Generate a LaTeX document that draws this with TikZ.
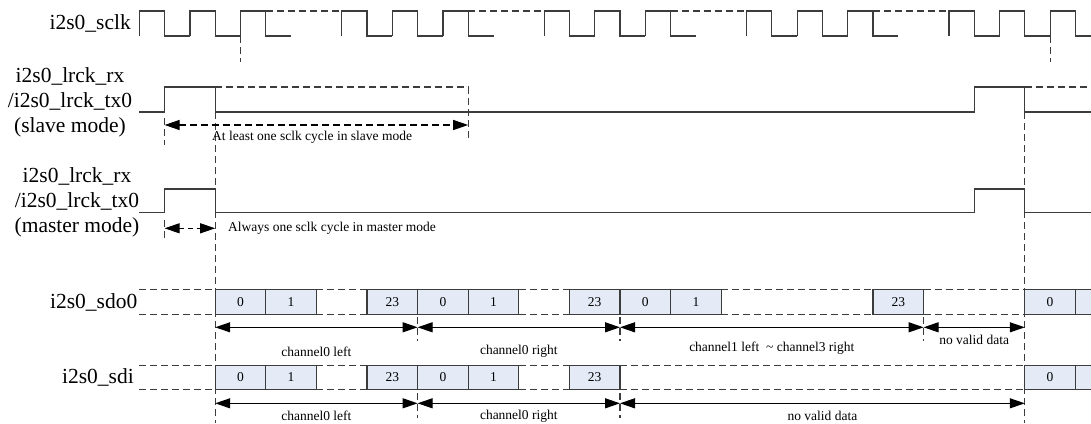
\documentclass[tikz,border=0pt]{standalone}
\usepackage{fontspec}
\setmainfont{Liberation Serif}
\usepackage{tikz}
\usetikzlibrary{arrows.meta}
\definecolor{tdLine}{RGB}{60, 60, 60}
\definecolor{tdCell}{RGB}{228, 235, 247}
\tikzset{
    wave/.style={
        draw=tdLine,
        line width=1.2pt
    },
    guide/.style={
        draw=tdLine,
        line width=1.1pt,
        dash pattern=on 7pt off 4pt
    },
    span/.style={
        >={Triangle[length=15pt,width=10pt]},
        <->,
        draw=black,
        line width=1.1pt
    },
    bitcell/.style={
        draw=tdLine,
        line width=1.1pt,
        fill=tdCell
    },
    signame/.style={
        font=\fontsize{21.5}{25}\selectfont,
        align=center,
        inner sep=0pt
    },
    note/.style={
        font=\fontsize{13.5}{16}\selectfont,
        inner sep=0pt
    }
}
% x position of sclk rising edge number #1
\newcommand{\tx}[1]{139.3+50.6*(#1)}

\begin{document}
\begin{tikzpicture}[x=1pt, y=-1pt]
    \useasboundingbox (0,0) rectangle (1091,423);

    % Signal names
    \node[signame, anchor=east] (sclk) at (131,23) {i2s0\_sclk};
    \node[signame] (slave) at (70,102) {i2s0\_lrck\_rx\\/i2s0\_lrck\_tx0\\(slave mode)};
    \node[signame] (master) at (77,202) {i2s0\_lrck\_rx\\/i2s0\_lrck\_tx0\\(master mode)};
    \node[signame, anchor=east] (sdo) at (137.5,302) {i2s0\_sdo0};
    \node[signame, anchor=east] (sdi) at (134,377) {i2s0\_sdi};

    % Long guides
    \draw[guide] ({\tx{1.5}},112) -- ({\tx{1.5}},423);
    \draw[guide] ({\tx{17.5}},112) -- ({\tx{17.5}},423);

    % sclk
    \foreach \k in {0,1,2,4,5,6,8,9,10,12,13,14,16,17,18}
        \draw[wave] ({\tx{\k}},36) -- ({\tx{\k}},11) -- ({\tx{\k+0.5}},11)
            -- ({\tx{\k+0.5}},36) -- ({\tx{\k+1}},36);
    \foreach \k in {2,6,10,14}
        \draw[guide] ({\tx{\k+0.5}},11) -- ({\tx{\k+2}},11);
    \draw[guide] ({\tx{2}},36) -- ({\tx{2}},62);
    \draw[guide] ({\tx{18}},36) -- ({\tx{18}},62);

    % lrck, slave mode
    \draw[wave] ({\tx{0}},112) -- ({\tx{0.5}},112) -- ({\tx{0.5}},87) -- ({\tx{1.5}},87)
        -- ({\tx{1.5}},112) -- ({\tx{16.5}},112) -- ({\tx{16.5}},87) -- ({\tx{17.5}},87)
        -- ({\tx{17.5}},112) -- (1091,112);
    \draw[guide] ({\tx{1.5}},87) -- ({\tx{6.5}},87) -- ({\tx{6.5}},140);
    \draw[guide] ({\tx{17.5}},87) -- (1091,87);
    \draw[guide] ({\tx{0.5}},118) -- ({\tx{0.5}},145);
    \coordinate (sa) at ({\tx{0.5}},125);
    \coordinate (sb) at ({\tx{6.5}},125);
    \draw[span, dash pattern=on 7pt off 4pt] (sa) -- (sb);
    \node[note, anchor=west] (slavenote) at (212,137) {At least one sclk cycle in slave mode};

    % lrck, master mode
    \draw[wave] ({\tx{0}},212.7) -- ({\tx{0.5}},212.7) -- ({\tx{0.5}},189) -- ({\tx{1.5}},189)
        -- ({\tx{1.5}},212.7) -- ({\tx{16.5}},212.7) -- ({\tx{16.5}},189) -- ({\tx{17.5}},189)
        -- ({\tx{17.5}},212.7) -- (1091,212.7);
    \draw[guide] ({\tx{0.5}},220) -- ({\tx{0.5}},241);
    \coordinate (ma) at ({\tx{0.5}},228.3);
    \coordinate (mb) at ({\tx{1.5}},228.3);
    \draw[span, dash pattern=on 5pt off 4pt] (ma) -- (mb);
    \node[note, anchor=west] (masternote) at (228,228.3) {Always one sclk cycle in master mode};

    % sdo0 data
    \foreach \a/\b in {0/1.5, 3.5/4.5, 7.5/8.5, 11.5/14.5, 15.5/17.5} {
        \draw[guide] ({\tx{\a}},289.5) -- ({\tx{\b}},289.5);
        \draw[guide] ({\tx{\a}},314.5) -- ({\tx{\b}},314.5);
    }
    \foreach \s/\v in {1.5/0, 2.5/1, 4.5/23, 5.5/0, 6.5/1, 8.5/23, 9.5/0, 10.5/1, 14.5/23, 17.5/0, 18.5/}
        \draw[bitcell] ({\tx{\s}},289.5) rectangle node[note] {\v} ({\tx{\s+1}},314.5);
    \foreach \t in {5.5, 9.5, 15.5}
        \draw[guide] ({\tx{\t}},317) -- ({\tx{\t}},341);
    \foreach \a/\b/\ty/\lbl in {1.5/5.5/351.5/channel0 left, 5.5/9.5/351.5/channel0 right,
            9.5/15.5/348/channel1 left\ \ \textasciitilde\ channel3 right, 15.5/17.5/340/no valid data} {
        \coordinate (oa) at ({\tx{\a}},327.3);
        \coordinate (ob) at ({\tx{\b}},327.3);
        \draw[span] (oa) -- (ob);
        \node[note] at ({\tx{(\a+\b)/2}},\ty) {\lbl};
    }

    % sdi data
    \foreach \a/\b in {0/1.5, 3.5/4.5, 7.5/8.5, 9.5/17.5} {
        \draw[guide] ({\tx{\a}},365.5) -- ({\tx{\b}},365.5);
        \draw[guide] ({\tx{\a}},389.5) -- ({\tx{\b}},389.5);
    }
    \foreach \s/\v in {1.5/0, 2.5/1, 4.5/23, 5.5/0, 6.5/1, 8.5/23, 17.5/0, 18.5/}
        \draw[bitcell] ({\tx{\s}},365.5) rectangle node[note] {\v} ({\tx{\s+1}},389.5);
    \foreach \t in {5.5, 9.5}
        \draw[guide] ({\tx{\t}},393) -- ({\tx{\t}},418);
    \foreach \a/\b/\lbl in {1.5/5.5/channel0 left, 5.5/9.5/channel0 right, 9.5/17.5/no valid data} {
        \coordinate (ia) at ({\tx{\a}},403.3);
        \coordinate (ib) at ({\tx{\b}},403.3);
        \draw[span] (ia) -- (ib);
        \node[note] at ({\tx{(\a+\b)/2}},416) {\lbl};
    }
\end{tikzpicture}
\end{document}
